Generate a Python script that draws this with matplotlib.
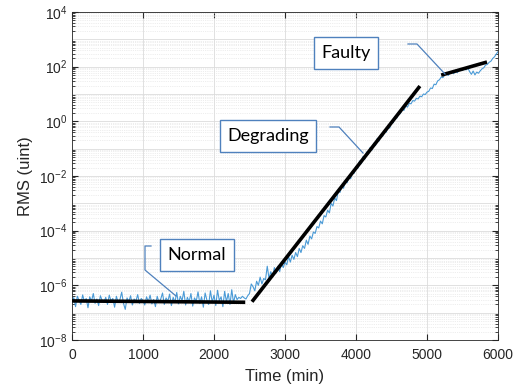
import numpy as np
import matplotlib.pyplot as plt
from matplotlib.ticker import MultipleLocator, LogLocator, NullFormatter

plt.rcParams['font.family'] = ['Liberation Sans', 'DejaVu Sans']

# blue trace, sampled every 25 min, values are log10(RMS)
time_min = np.arange(0, 6001, 25)
rms_log = [
    -6.62, -6.45, -6.78, -6.40, -6.55, -6.70, -6.35, -6.60, -6.48, -6.82,
    -6.42, -6.58, -6.30, -6.66, -6.50, -6.74, -6.38, -6.56, -6.62, -6.44,
    -6.70, -6.36, -6.58, -6.48, -6.80, -6.40, -6.62, -6.52, -6.25, -6.66,
    -6.88, -6.46, -6.60, -6.38, -6.72, -6.50, -6.58, -6.34, -6.66, -6.48,
    -6.56, -6.72, -6.42, -6.60, -6.36, -6.68, -6.52, -6.78, -6.40, -6.62,
    -6.50, -6.28, -6.70, -6.46, -6.58, -6.32, -6.74, -6.44, -6.62, -6.26,
    -6.68, -6.40, -6.56, -6.22, -6.72, -6.44, -6.60, -6.30, -6.76, -6.46,
    -6.58, -6.24, -6.66, -6.42, -6.80, -6.28, -6.54, -6.70, -6.20, -6.62,
    -6.36, -6.74, -6.18, -6.56, -6.42, -6.78, -6.22, -6.60, -6.30, -6.70,
    -6.16, -6.64, -6.34, -6.52, -6.44, -6.48, -6.40, -6.46, -6.50, -6.38,
    -6.30, -5.95, -6.05, -6.20, -5.85, -6.00, -5.70, -5.95, -5.75, -5.80,
    -5.30, -5.75, -5.50, -5.70, -5.35, -5.55, -5.30, -5.50, -5.20, -5.35,
    -5.15, -5.25, -4.95, -5.15, -4.90, -5.05, -4.80, -4.95, -4.65, -4.80,
    -4.55, -4.65, -4.35, -4.50, -4.20, -4.30, -4.05, -4.10, -3.85, -3.90,
    -3.65, -3.75, -3.45, -3.50, -3.25, -3.35, -3.00, -3.10, -2.80, -2.90,
    -2.55, -2.60, -2.35, -2.45, -2.15, -2.25, -2.00, -2.10, -1.85, -1.90,
    -1.65, -1.72, -1.45, -1.55, -1.28, -1.38, -1.12, -1.20, -0.95, -1.05,
    -0.80, -0.88, -0.62, -0.72, -0.48, -0.55, -0.32, -0.40, -0.16, -0.25,
    0.00, -0.05, 0.18, 0.12, 0.32, 0.28, 0.45, 0.40, 0.56, 0.52,
    0.66, 0.64, 0.76, 0.74, 0.84, 0.82, 0.92, 0.90, 1.00, 0.98,
    1.07, 1.10, 1.22, 1.20, 1.36, 1.34, 1.48, 1.52, 1.62, 1.60,
    1.70, 1.74, 1.68, 1.78, 1.82, 1.74, 1.84, 1.78, 1.86, 1.90,
    1.86, 1.94, 1.88, 1.96, 1.82, 1.72, 1.84, 1.70, 1.80, 1.76,
    1.85, 1.92, 1.96, 2.06, 2.08, 2.16, 2.20, 2.30, 2.36, 2.46,
    2.55,
]

# fitted trend segments (log10 values)
normal_x, normal_log = [0, 2440], [-6.57, -6.62]
degrading_x, degrading_log = [2535, 4900], [-6.60, 1.29]
faulty_x, faulty_log = [5200, 5845], [1.69, 2.17]

fig = plt.figure(figsize=(5.22, 3.92), dpi=100)
ax = fig.add_axes([72 / 522, 1 - 340 / 392, 426 / 522, 328 / 392])

ax.plot(time_min, 10 ** np.array(rms_log), color='#4a9ad6', lw=0.8, zorder=3)
for xs, ys in [(normal_x, normal_log), (degrading_x, degrading_log), (faulty_x, faulty_log)]:
    ax.plot(xs, 10 ** np.array(ys), color='black', lw=2.6, solid_capstyle='butt', zorder=4)

ax.set_yscale('log')
ax.set_xlim(0, 6000)
ax.set_ylim(1e-8, 1e4)
ax.xaxis.set_major_locator(MultipleLocator(1000))
ax.set_yticks([10.0 ** k for k in range(-8, 5, 2)])
ax.yaxis.set_minor_locator(LogLocator(base=10, subs=np.arange(2, 10), numticks=50))
ax.yaxis.set_minor_formatter(NullFormatter())

ax.grid(True, which='major', color='#dcdcdc', lw=0.6)
ax.grid(True, which='minor', axis='y', color='#dedede', lw=0.5, ls=':')
# unlabelled decades still get a solid grid line
for k in range(-7, 4, 2):
    ax.axhline(10.0 ** k, color='#dcdcdc', lw=0.6, zorder=0)
ax.set_axisbelow(True)

ax.tick_params(which='both', direction='in', top=True, right=True, colors='#262626', labelsize=10)
ax.tick_params(which='major', length=4)
ax.tick_params(axis='x', pad=6)
ax.tick_params(which='minor', length=2)
for s in ax.spines.values():
    s.set_color('#262626')
    s.set_linewidth(0.6)

ax.set_xlabel('Time (min)', fontsize=12, color='#262626', labelpad=5)
ax.set_ylabel('RMS (uint)', fontsize=12, color='#262626', labelpad=4)


def px(x, y):
    return ((x - 72) / 426, (340 - y) / 328)


box = dict(boxstyle='square,pad=0.42', fc='white', ec='#4f81bd', lw=1)
callout = dict(color='#4f81bd', lw=0.9, transform=ax.transAxes, zorder=5)

labels = [('Normal', (197, 255)), ('Degrading', (268, 136)), ('Faulty', (346, 53))]
for text, (cx, cy) in labels:
    ax.text(*px(cx, cy), text, transform=ax.transAxes, ha='center', va='center',
            fontsize=13, family=['Lato', 'DejaVu Sans'], color='black', bbox=box, zorder=6)

lines = [
    [(151, 246), (145, 246), (145, 270), (176, 296)],
    [(330, 127), (339, 127), (363, 153)],
    [(408, 44), (417, 44), (445, 74)],
]
for pts in lines:
    xy = [px(a, b) for a, b in pts]
    ax.plot([p[0] for p in xy], [p[1] for p in xy], **callout)

fig.savefig('out.png', dpi=100)
